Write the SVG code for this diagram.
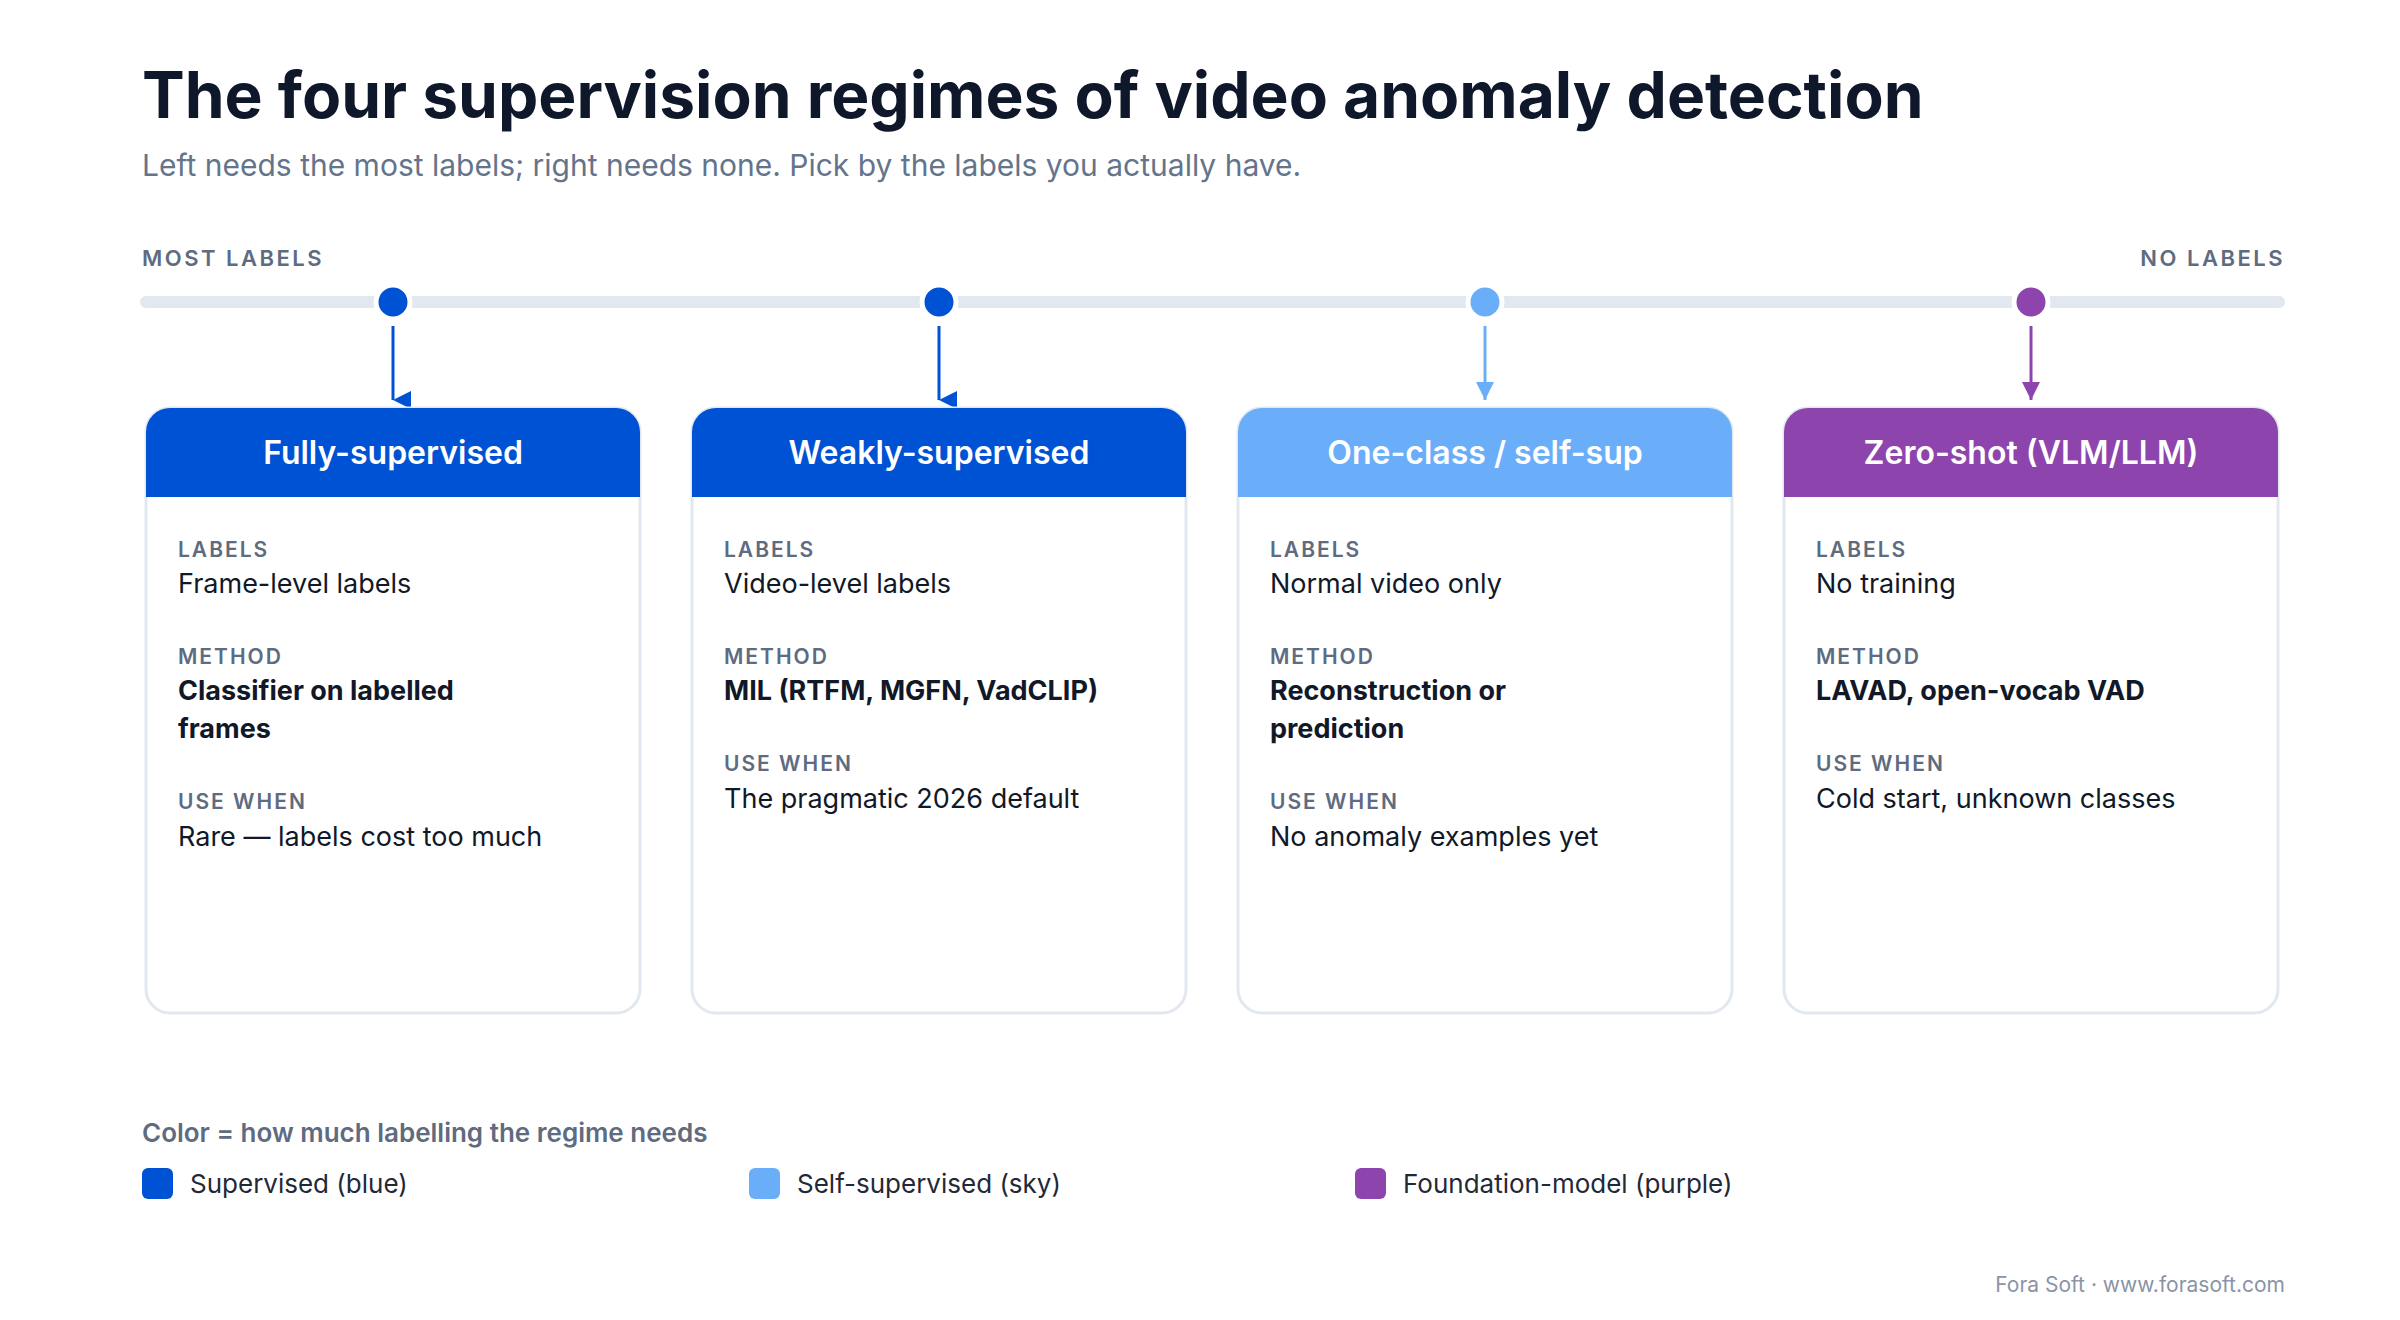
<svg xmlns="http://www.w3.org/2000/svg" width="2400" height="1320" viewBox="0 0 2400 1320">
<style>
text{font-family:Inter,"Noto Sans","Liberation Sans",sans-serif}
.cap{font-size:21px;font-weight:600;letter-spacing:2px;fill:#5e6b80}
.val{font-size:27px;fill:#111827}
.bold{font-size:27px;font-weight:700;fill:#111827}
.hd{font-size:32px;font-weight:600;fill:#fff;text-anchor:middle}
.card{fill:#fff;stroke:#e2e8f0;stroke-width:3}
.leg{font-size:26px;fill:#1f2937}
</style>
<defs>
<marker id="ab" viewBox="0 0 10 10" refX="5" refY="10" markerWidth="18" markerHeight="18" markerUnits="userSpaceOnUse" orient="auto-start-reverse"><path d="M0,0 L10,0 L5,10 z" fill="#0052d4" transform="rotate(0)"/></marker>
<marker id="as" viewBox="0 0 10 10" refX="5" refY="10" markerWidth="18" markerHeight="18" markerUnits="userSpaceOnUse"><path d="M0,0 L10,0 L5,10 z" fill="#6aaefa"/></marker>
<marker id="ap" viewBox="0 0 10 10" refX="5" refY="10" markerWidth="18" markerHeight="18" markerUnits="userSpaceOnUse"><path d="M0,0 L10,0 L5,10 z" fill="#8e44ad"/></marker>
</defs>
<rect width="2400" height="1320" fill="#fff"/>
<text x="142" y="118" font-size="64" font-weight="700" fill="#0f172a">The four supervision regimes of video anomaly detection</text>
<text x="142" y="176" font-size="30" fill="#64748b">Left needs the most labels; right needs none. Pick by the labels you actually have.</text>
<text x="142" y="266" font-size="22" font-weight="600" letter-spacing="2.5" fill="#5e6b80">MOST LABELS</text>
<text x="2285" y="266" font-size="22" font-weight="600" letter-spacing="2.5" fill="#5e6b80" text-anchor="end">NO LABELS</text>
<line x1="146" y1="302" x2="2279" y2="302" stroke="#e2e8f0" stroke-width="12" stroke-linecap="round"/>
<g id="connectors" stroke-width="3">
<line x1="393" y1="326" x2="393" y2="400" stroke="#0052d4" marker-end="url(#ab)"/>
<line x1="939" y1="326" x2="939" y2="400" stroke="#0052d4" marker-end="url(#ab)"/>
<line x1="1485" y1="326" x2="1485" y2="400" stroke="#6aaefa" marker-end="url(#as)"/>
<line x1="2031" y1="326" x2="2031" y2="400" stroke="#8e44ad" marker-end="url(#ap)"/>
</g>
<g id="dots" stroke="#fff" stroke-width="5">
<circle cx="393" cy="302" r="17" fill="#0052d4"/>
<circle cx="939" cy="302" r="17" fill="#0052d4"/>
<circle cx="1485" cy="302" r="17" fill="#6aaefa"/>
<circle cx="2031" cy="302" r="17" fill="#8e44ad"/>
</g>
<g id="card1">
<rect class="card" x="146" y="408" width="494" height="605" rx="24"/>
<path d="M146,497 V432 A24,24 0 0 1 170,408 H616 A24,24 0 0 1 640,432 V497 Z" fill="#0052d4"/>
<text class="hd" x="393" y="464">Fully-supervised</text>
<text class="cap" x="178" y="557">LABELS</text>
<text class="val" x="178" y="593">Frame-level labels</text>
<text class="cap" x="178" y="664">METHOD</text>
<text class="bold" x="178" y="700">Classifier on labelled</text>
<text class="bold" x="178" y="738">frames</text>
<text class="cap" x="178" y="809">USE WHEN</text>
<text class="val" x="178" y="846">Rare — labels cost too much</text>
</g>
<g id="card2">
<rect class="card" x="692" y="408" width="494" height="605" rx="24"/>
<path d="M692,497 V432 A24,24 0 0 1 716,408 H1162 A24,24 0 0 1 1186,432 V497 Z" fill="#0052d4"/>
<text class="hd" x="939" y="464">Weakly-supervised</text>
<text class="cap" x="724" y="557">LABELS</text>
<text class="val" x="724" y="593">Video-level labels</text>
<text class="cap" x="724" y="664">METHOD</text>
<text class="bold" x="724" y="700">MIL (RTFM, MGFN, VadCLIP)</text>
<text class="cap" x="724" y="771">USE WHEN</text>
<text class="val" x="724" y="808">The pragmatic 2026 default</text>
</g>
<g id="card3">
<rect class="card" x="1238" y="408" width="494" height="605" rx="24"/>
<path d="M1238,497 V432 A24,24 0 0 1 1262,408 H1708 A24,24 0 0 1 1732,432 V497 Z" fill="#6aaefa"/>
<text class="hd" x="1485" y="464">One-class / self-sup</text>
<text class="cap" x="1270" y="557">LABELS</text>
<text class="val" x="1270" y="593">Normal video only</text>
<text class="cap" x="1270" y="664">METHOD</text>
<text class="bold" x="1270" y="700">Reconstruction or</text>
<text class="bold" x="1270" y="738">prediction</text>
<text class="cap" x="1270" y="809">USE WHEN</text>
<text class="val" x="1270" y="846">No anomaly examples yet</text>
</g>
<g id="card4">
<rect class="card" x="1784" y="408" width="494" height="605" rx="24"/>
<path d="M1784,497 V432 A24,24 0 0 1 1808,408 H2254 A24,24 0 0 1 2278,432 V497 Z" fill="#8e44ad"/>
<text class="hd" x="2031" y="464">Zero-shot (VLM/LLM)</text>
<text class="cap" x="1816" y="557">LABELS</text>
<text class="val" x="1816" y="593">No training</text>
<text class="cap" x="1816" y="664">METHOD</text>
<text class="bold" x="1816" y="700">LAVAD, open-vocab VAD</text>
<text class="cap" x="1816" y="771">USE WHEN</text>
<text class="val" x="1816" y="808">Cold start, unknown classes</text>
</g>
<g id="legend">
<text x="142" y="1142" font-size="26" font-weight="600" fill="#5e6b80">Color = how much labelling the regime needs</text>
<rect x="142" y="1168" width="31" height="31" rx="6" fill="#0052d4"/>
<text class="leg" x="190" y="1193">Supervised (blue)</text>
<rect x="749" y="1168" width="31" height="31" rx="6" fill="#6aaefa"/>
<text class="leg" x="797" y="1193">Self-supervised (sky)</text>
<rect x="1355" y="1168" width="31" height="31" rx="6" fill="#8e44ad"/>
<text class="leg" x="1403" y="1193">Foundation-model (purple)</text>
</g>
<text x="2285" y="1292" font-size="21" fill="#8a94a6" text-anchor="end">Fora Soft · www.forasoft.com</text>
</svg>
